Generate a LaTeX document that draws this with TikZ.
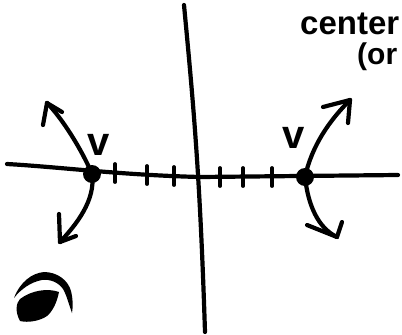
\documentclass[tikz,border=0pt]{standalone}
\usepackage{fontspec}
\setmainfont{Liberation Sans}
\begin{document}
\begin{tikzpicture}[x=1pt,y=-1pt,
  pen/.style={line width=4.2pt,line cap=round,line join=round},
  arrowstroke/.style={line width=4.2pt,line cap=round},
  tickmark/.style={line width=3.8pt,line cap=round},
  vdot/.style={circle,fill=black,inner sep=0pt,minimum size=18pt},
  hand/.style={font=\bfseries\fontsize{33}{33}\selectfont,inner sep=0pt}]
\useasboundingbox[fill=white] (0,0) rectangle (402,335);
% axes
\coordinate (xl) at (7,164);
\coordinate (xm) at (200,177);
\coordinate (xr) at (398,175);
\coordinate (yt) at (184,5);
\coordinate (yb) at (205,332);
\draw[pen] (xl) .. controls (60,167) and (120,175) .. (xm) -- (xr);
\draw[pen] (yt) .. controls (194,110) and (200,177) .. (yb);
% ticks
\foreach \x/\y in {115/173,147/175,174/176,220/177,243/177,272/177}
  \draw[tickmark] (\x,\y-9) -- (\x,\y+9);
% vertices
\node[vdot] (vl) at (92,174) {};
\node[vdot] (vr) at (305,177) {};
% left branch
\coordinate (lt) at (47,103);
\coordinate (lb) at (60,242);
\draw[pen] (vl.center) .. controls (82,150) and (62,118) .. (lt);
\draw[arrowstroke] (lt) -- (43,125);
\draw[arrowstroke] (lt) -- (62,112);
\draw[pen] (vl.center) .. controls (96,200) and (76,225) .. (lb);
\draw[arrowstroke] (lb) -- (59,214);
\draw[arrowstroke] (lb) -- (76,236);
% right branch
\coordinate (rt) at (350,100);
\coordinate (rb) at (337,237);
\draw[pen] (vr.center) .. controls (312,145) and (330,120) .. (rt);
\draw[arrowstroke] (rt) -- (323,107);
\draw[arrowstroke] (rt) -- (348,123);
\draw[pen] (vr.center) .. controls (308,205) and (318,228) .. (rb);
\draw[arrowstroke] (rb) -- (307,225);
\draw[arrowstroke] (rb) -- (342,222);
% vertex labels
\node[hand,font=\bfseries\fontsize{40}{40}\selectfont] (lv) at (99,145) {v};
\node[hand,font=\bfseries\fontsize{40}{40}\selectfont] (rv) at (294,138) {v};
% text
\node[hand,anchor=base west] (ctr) at (300,34) {center};
\node[hand,anchor=base west,font=\bfseries\fontsize{30}{30}\selectfont] (orr) at (357,64) {(or};
% blob
\fill (20,321) .. controls (15,312) and (16,303) .. (20,299)
  .. controls (32,290) and (48,288) .. (59,292)
  .. controls (57,302) and (53,311) .. (47,316)
  .. controls (40,321) and (28,323) .. (20,321) -- cycle;
\fill (14,298) .. controls (20,282) and (32,273) .. (44,272)
  .. controls (57,272) and (68,280) .. (71,291)
  .. controls (73,299) and (73,307) .. (72,313)
  .. controls (69,305) and (67,296) .. (63,289)
  .. controls (58,282) and (50,279) .. (42,280)
  .. controls (31,282) and (21,289) .. (14,298) -- cycle;
\end{tikzpicture}
\end{document}
